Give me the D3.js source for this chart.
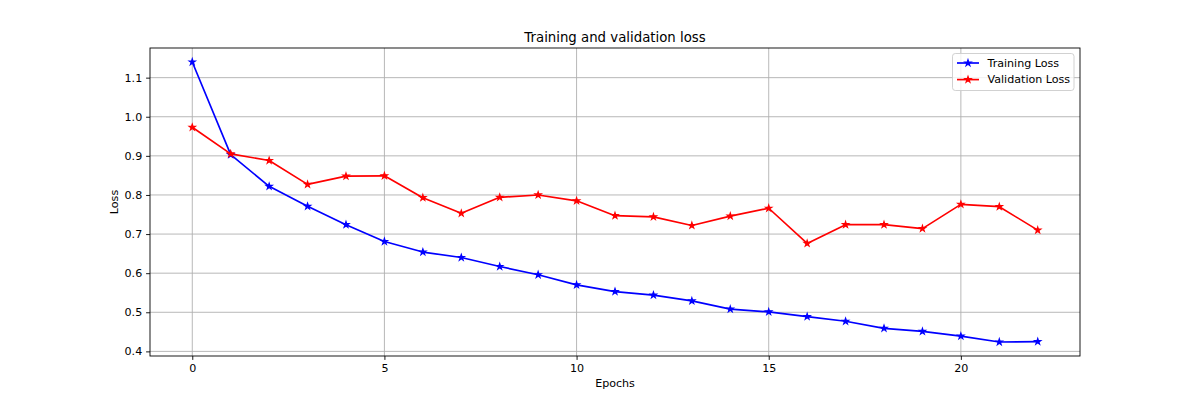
<!DOCTYPE html>
<html>
<head>
<meta charset="utf-8">
<script src="https://cdn.jsdelivr.net/npm/d3@7"></script>
<style>
  body { margin: 0; background: #fff; }
  svg { display: block; font-family: "DejaVu Sans", sans-serif; }
</style>
</head>
<body>
<div id="viz"></div>
<script>
(function() {

// values
var epochs = d3.range(0, 23);
var trainLoss = [1.140, 0.903, 0.822, 0.771, 0.724, 0.681, 0.654, 0.640, 0.617, 0.596,
                 0.570, 0.553, 0.544, 0.529, 0.508, 0.501, 0.489, 0.477, 0.459, 0.451,
                 0.439, 0.424, 0.425];
var valLoss = [0.973, 0.905, 0.888, 0.827, 0.848, 0.849, 0.793, 0.753, 0.794, 0.800,
               0.785, 0.747, 0.744, 0.722, 0.746, 0.766, 0.676, 0.724, 0.724, 0.714,
               0.776, 0.770, 0.710];
var xTicks = [0, 5, 10, 15, 20];
var yTicks = [0.4, 0.5, 0.6, 0.7, 0.8, 0.9, 1.0, 1.1];
var seriesNames = ["Training Loss", "Validation Loss"];
var seriesColors = ["#0000ff", "#ff0000"];

var width = 1200, height = 400;
var margin = {top: 48, right: 120, bottom: 44, left: 150};
var innerW = width - margin.left - margin.right,
    innerH = height - margin.top - margin.bottom;
var fs = 11.1;  // 10pt at 80 dpi

var svg = d3.select("#viz").append("svg")
    .attr("width", width)
    .attr("height", height);

var g = svg.append("g")
    .attr("transform", "translate(" + margin.left + "," + margin.top + ")");

// matplotlib style 5% padding on the data range
var allY = trainLoss.concat(valLoss);
var yMin = d3.min(allY), yMax = d3.max(allY), yPad = (yMax - yMin) * 0.05;
var xPad = (epochs.length - 1) * 0.05;

var x = d3.scaleLinear()
    .domain([-xPad, epochs.length - 1 + xPad])
    .range([0, innerW]);
var y = d3.scaleLinear()
    .domain([yMin - yPad, yMax + yPad])
    .range([innerH, 0]);

// grid
g.append("g").selectAll("line").data(xTicks).enter().append("line")
    .attr("x1", function(d) { return x(d); })
    .attr("x2", function(d) { return x(d); })
    .attr("y1", 0).attr("y2", innerH)
    .style("stroke", "#b0b0b0").style("stroke-width", 0.9);
g.append("g").selectAll("line").data(yTicks).enter().append("line")
    .attr("y1", function(d) { return y(d); })
    .attr("y2", function(d) { return y(d); })
    .attr("x1", 0).attr("x2", innerW)
    .style("stroke", "#b0b0b0").style("stroke-width", 0.9);

// axes
var xAxis = g.append("g")
    .attr("transform", "translate(0," + innerH + ")")
    .call(d3.axisBottom(x).tickValues(xTicks).tickSize(3.9).tickPadding(3.9).tickFormat(d3.format("d")));
var yAxis = g.append("g")
    .call(d3.axisLeft(y).tickValues(yTicks).tickSize(3.9).tickPadding(3.9).tickFormat(d3.format(".1f")));

[xAxis, yAxis].forEach(function(a) {
    a.select(".domain").remove();
    a.selectAll(".tick line").style("stroke", "#000").style("stroke-width", 0.9);
    a.selectAll(".tick text")
        .style("font-family", "DejaVu Sans")
        .style("font-size", fs + "px")
        .style("fill", "#000");
});

// frame
g.append("rect")
    .attr("width", innerW).attr("height", innerH)
    .style("fill", "none").style("stroke", "#000").style("stroke-width", 0.9);

// lines + star markers
var line = d3.line()
    .x(function(d, i) { return x(epochs[i]); })
    .y(function(d) { return y(d); });
var star = d3.symbol().type(d3.symbolStar).size(12.5);

[trainLoss, valLoss].forEach(function(series, k) {
    g.append("path")
        .datum(series)
        .attr("d", line)
        .style("fill", "none")
        .style("stroke", seriesColors[k])
        .style("stroke-width", 1.67)
        .style("stroke-linejoin", "round");
    g.append("g").selectAll("path").data(series).enter().append("path")
        .attr("d", star)
        .attr("transform", function(d, i) { return "translate(" + x(epochs[i]) + "," + y(d) + ")"; })
        .style("fill", seriesColors[k])
        .style("stroke", seriesColors[k])
        .style("stroke-width", 1.11);
});

// title and labels
svg.append("text")
    .attr("x", margin.left + innerW / 2).attr("y", 42)
    .attr("text-anchor", "middle")
    .style("font-size", "13.3px")
    .text("Training and validation loss");
svg.append("text")
    .attr("x", margin.left + innerW / 2).attr("y", 387)
    .attr("text-anchor", "middle")
    .style("font-size", fs + "px")
    .text("Epochs");
svg.append("text")
    .attr("transform", "translate(118," + (margin.top + innerH / 2) + ") rotate(-90)")
    .attr("text-anchor", "middle")
    .style("font-size", fs + "px")
    .text("Loss");

// legend
var lg = svg.append("g").attr("transform", "translate(952.5,53.5)");
lg.append("rect")
    .attr("width", 121.5).attr("height", 37)
    .attr("rx", 2.8)
    .style("fill", "#fff").style("fill-opacity", 0.8)
    .style("stroke", "#cccccc").style("stroke-width", 0.9);
lg.selectAll("g.item").data(seriesNames).enter().append("g")
    .attr("class", "item")
    .attr("transform", function(d, i) { return "translate(0," + (9.5 + i * 16.6) + ")"; })
    .each(function(d, i) {
        var it = d3.select(this);
        it.append("line")
            .attr("x1", 4.5).attr("x2", 26.5)
            .style("stroke", seriesColors[i]).style("stroke-width", 1.67);
        it.append("path")
            .attr("d", star)
            .attr("transform", "translate(15.5,0)")
            .style("fill", seriesColors[i])
            .style("stroke", seriesColors[i])
            .style("stroke-width", 1.11);
        it.append("text")
            .attr("x", 35).attr("dy", "0.35em")
            .style("font-size", fs + "px")
            .text(d);
    });

})();
</script>
</body>
</html>
